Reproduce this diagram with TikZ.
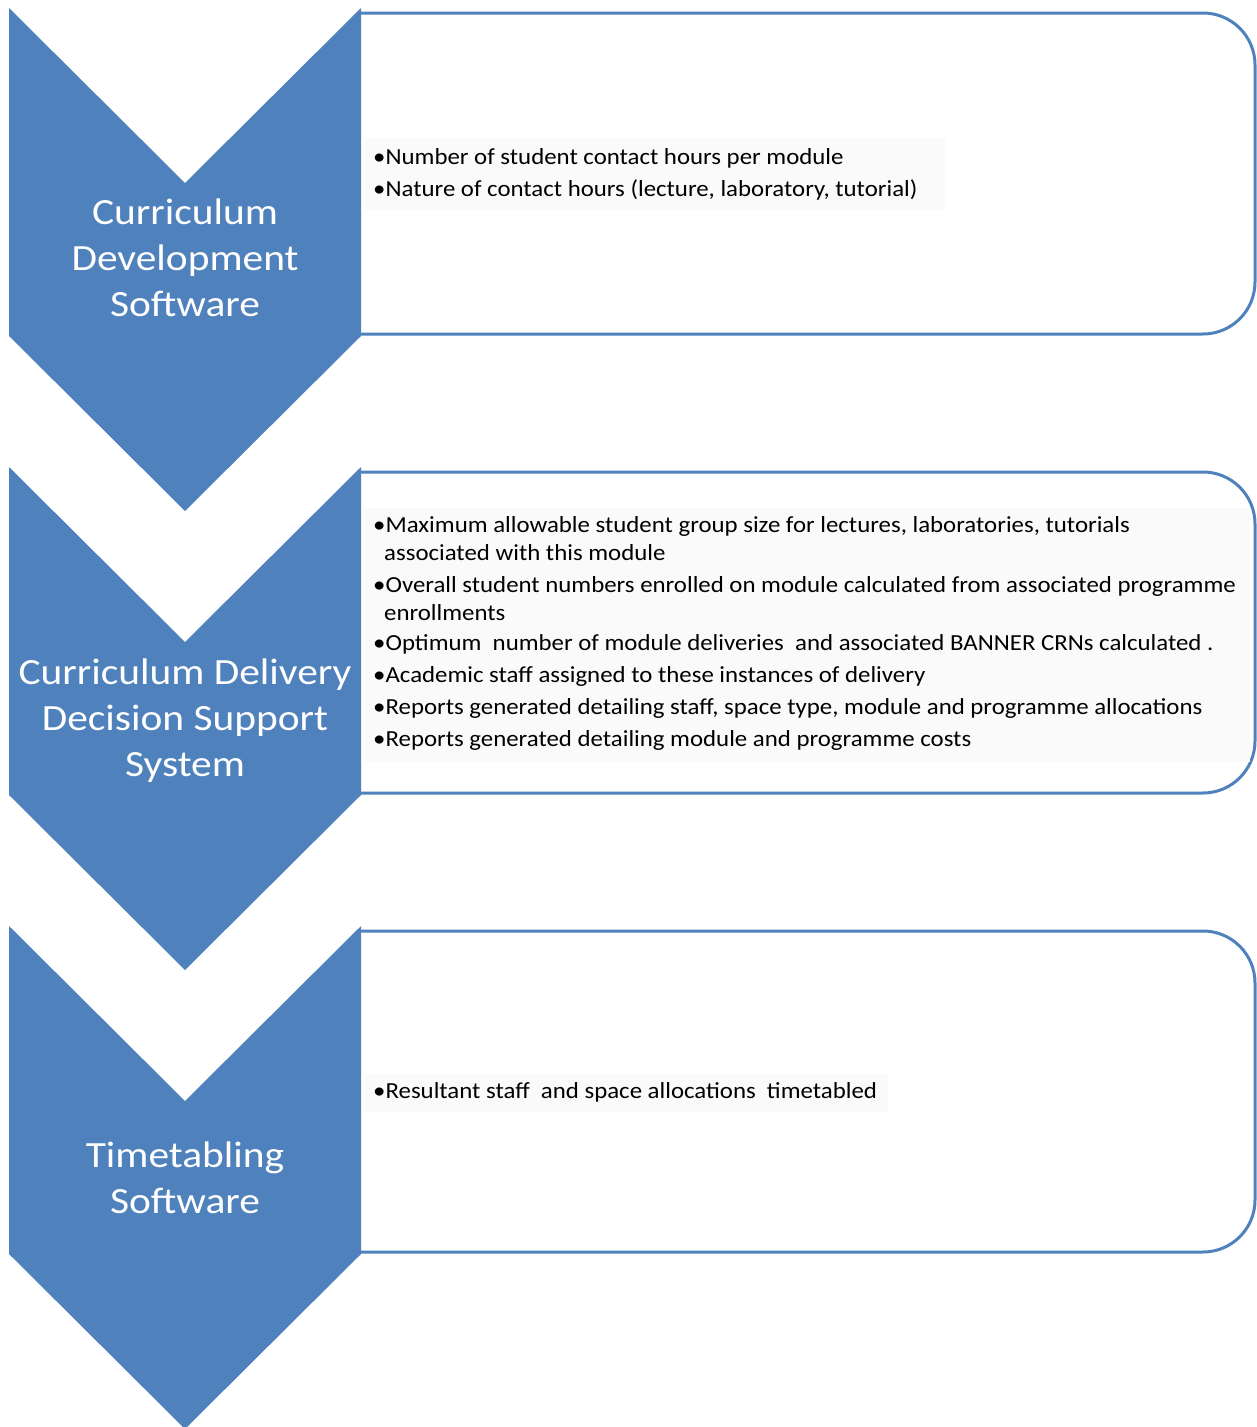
\documentclass[tikz,border=0pt]{standalone}
\usepackage{fontspec}
\setmainfont{Carlito}
\newfontfamily\itemfont[FakeStretch=1.08]{Carlito}
\newfontfamily\titlefont[FakeStretch=1.12]{Carlito}
\definecolor{ofblue}{HTML}{4F81BD}
\definecolor{txtbg}{HTML}{FAFAFA}
\tikzset{
  chev/.style={fill=ofblue, draw=none},
  infobox/.style={draw=ofblue, fill=white, line width=3pt, rounded corners=52pt},
  textbg/.style={fill=txtbg, draw=none},
  title/.style={text=white, align=center, font=\titlefont\fontsize{37}{46}\selectfont, inner sep=0pt},
  item/.style={anchor=base west, inner sep=0pt, text=black, font=\itemfont\fontsize{23}{28}\selectfont},
}
\begin{document}
\begin{tikzpicture}[x=1pt,y=-1pt]
\useasboundingbox (0,0) rectangle (1257,1427);
% boxes
\filldraw[infobox] (361,13) -- (1255,13) -- (1255,334) -- (361,334);
\filldraw[infobox] (361,472) -- (1255,472) -- (1255,793) -- (361,793);
\filldraw[infobox] (361,931) -- (1255,931) -- (1255,1252) -- (361,1252);
% faint text backgrounds
\fill[textbg] (365,138) rectangle (945,210);
\fill[textbg] (365,508) rectangle (1250,762);
\fill[textbg] (365,1074) rectangle (888,1112);
% chevrons
\fill[chev] (9,8) -- (185,183) -- (361,8) -- (361,336) -- (185,511) -- (9,336) -- cycle;
\fill[chev] (9,467) -- (185,642) -- (361,467) -- (361,795) -- (185,970) -- (9,795) -- cycle;
\fill[chev] (9,926) -- (185,1101) -- (361,926) -- (361,1254) -- (185,1429) -- (9,1254) -- cycle;
% titles
\node[title] (t1) at (185,258) {Curriculum\\Development\\Software};
\node[title] (t2) at (185,721) {Curriculum Delivery\\Decision Support\\System};
\node[title] (t3) at (185,1178) {Timetabling\\Software};
% box 1 text
\node[item] (a1) at (373,164) {\textbullet Number of student contact hours per module};
\node[item] (a2) at (373,196) {\textbullet Nature of contact hours (lecture, laboratory, tutorial)};
% box 2 text
\node[item] (b1) at (373,532) {\textbullet Maximum allowable student group size for lectures, laboratories, tutorials};
\node[item] (b1b) at (384,560) {associated with this module};
\node[item] (b2) at (373,592) {\textbullet Overall student numbers enrolled on module calculated from associated programme};
\node[item] (b2b) at (384,620) {enrollments};
\node[item] (b3) at (373,650) {\textbullet Optimum\ \ number of module deliveries\ \ and associated BANNER CRNs calculated .};
\node[item] (b4) at (373,682) {\textbullet Academic staff assigned to these instances of delivery};
\node[item] (b5) at (373,714) {\textbullet Reports generated detailing staff, space type, module and programme allocations};
\node[item] (b6) at (373,746) {\textbullet Reports generated detailing module and programme costs};
% box 3 text
\node[item] (c1) at (373,1098) {\textbullet Resultant staff\ \ and space allocations\ \ timetabled};
\end{tikzpicture}
\end{document}
